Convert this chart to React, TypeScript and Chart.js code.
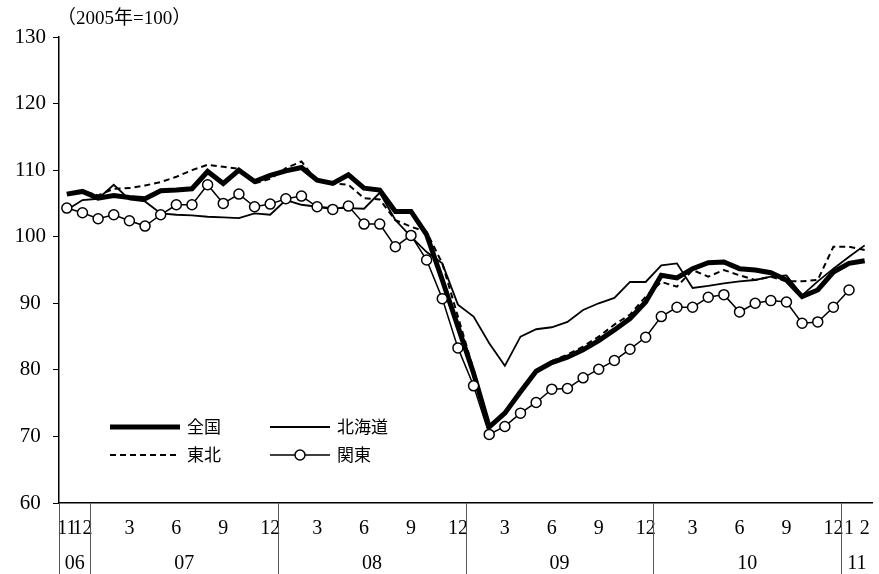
import React, { useEffect, useRef } from "react";
import { Chart, registerables } from "chart.js";

Chart.register(...registerables);

const categories = [
  "2006-11", "2006-12",
  "2007-01", "2007-02", "2007-03", "2007-04", "2007-05", "2007-06", "2007-07", "2007-08", "2007-09", "2007-10", "2007-11", "2007-12",
  "2008-01", "2008-02", "2008-03", "2008-04", "2008-05", "2008-06", "2008-07", "2008-08", "2008-09", "2008-10", "2008-11", "2008-12",
  "2009-01", "2009-02", "2009-03", "2009-04", "2009-05", "2009-06", "2009-07", "2009-08", "2009-09", "2009-10", "2009-11", "2009-12",
  "2010-01", "2010-02", "2010-03", "2010-04", "2010-05", "2010-06", "2010-07", "2010-08", "2010-09", "2010-10", "2010-11", "2010-12",
  "2011-01", "2011-02",
];

const zenkoku = [
  106.4, 106.8, 105.8, 106.2, 105.9, 105.7, 106.9, 107.0, 107.2, 109.8, 108.0, 110.0, 108.3,
  109.2, 109.9, 110.4, 108.5, 108.0, 109.3, 107.3, 107.0, 103.8, 103.8, 100.3, 93.5, 86.5,
  79.5, 71.4, 73.5, 76.7, 79.8, 81.1, 81.9, 83.0, 84.4, 86.0, 87.7, 90.2, 94.2,
  93.8, 95.2, 96.1, 96.2, 95.2, 95.0, 94.6, 93.5, 91.0, 92.0, 94.7, 96.0, 96.4,
];

const hokkaido = [
  104.0, 105.5, 105.7, 107.8, 105.6, 105.3, 103.5, 103.3, 103.2, 103.0, 102.9, 102.8, 103.5,
  103.3, 105.5, 104.8, 104.5, 104.3, 104.3, 104.2, 106.6, 102.5, 100.0, 97.7, 96.0, 89.8,
  88.0, 84.0, 80.6, 85.0, 86.1, 86.4, 87.2, 89.0, 90.0, 90.8, 93.2, 93.2, 95.7,
  96.0, 92.3, 92.6, 93.0, 93.3, 93.5, 94.0, 94.2, 91.2, 93.3, 95.2, 97.0, 98.7,
];

const tohoku = [
  106.5, 106.9, 106.2, 107.2, 107.3, 107.7, 108.2, 109.0, 110.0, 110.8, 110.5, 110.2, 108.0,
  108.7, 110.3, 111.3, 108.3, 108.0, 107.8, 105.8, 105.6, 102.5, 101.5, 100.7, 96.0, 88.0,
  80.0, 71.5, 73.2, 76.5, 79.8, 81.3, 82.3, 83.5, 85.0, 86.8, 88.3, 91.0, 93.2,
  92.5, 95.0, 94.0, 95.0, 94.2, 93.5, 94.0, 93.3, 93.3, 93.5, 98.5, 98.5, 98.0,
];

const kanto = [
  104.3, 103.6, 102.7, 103.3, 102.4, 101.6, 103.3, 104.8, 104.8, 107.8, 105.0, 106.4, 104.5,
  104.9, 105.7, 106.1, 104.5, 104.1, 104.6, 101.9, 101.9, 98.5, 100.2, 96.5, 90.7, 83.3,
  77.6, 70.3, 71.5, 73.5, 75.1, 77.1, 77.2, 78.8, 80.1, 81.4, 83.1, 84.9, 88.0,
  89.4, 89.4, 90.9, 91.3, 88.7, 90.0, 90.4, 90.2, 87.0, 87.2, 89.4, 92.0, null,
];

const seriesNames = ["全国", "北海道", "東北", "関東"];
const yearLabels = ["06", "07", "08", "09", "10", "11"];
const unitLabel = "（2005年=100）";
const yMin = 60;
const yMax = 130;
const yStep = 10;

const NUM_FONT = '"Liberation Serif", "Noto Sans CJK JP", serif';
const JP_FONT = '"Noto Sans CJK JP", "Liberation Serif", sans-serif';

function yearOf(i: number) {
  return categories[i].split("-")[0];
}
function monthOf(i: number) {
  return Number(categories[i].split("-")[1]);
}
function tickLabel(i: number) {
  const m = monthOf(i);
  const y = yearOf(i);
  if (i < 2 || y === yearOf(categories.length - 1) || m % 3 === 0) return String(m);
  return "";
}

const yearPlugin = {
  id: "yearRow",
  afterDraw(chart: any) {
    const { ctx, chartArea } = chart;
    const x = chart.scales.x;
    const bounds: number[] = [chartArea.left];
    for (let i = 1; i < categories.length; i++) {
      if (yearOf(i) !== yearOf(i - 1)) {
        bounds.push((x.getPixelForValue(i - 1) + x.getPixelForValue(i)) / 2);
      }
    }
    bounds.push(chartArea.right);
    ctx.save();
    ctx.strokeStyle = "#555";
    ctx.lineWidth = 1;
    for (let k = 0; k < bounds.length - 1; k++) {
      const px = Math.round(bounds[k]) + 0.5;
      ctx.beginPath();
      ctx.moveTo(px, chartArea.bottom);
      ctx.lineTo(px, chart.height);
      ctx.stroke();
    }
    ctx.fillStyle = "#000";
    ctx.font = "20px " + NUM_FONT;
    ctx.textAlign = "center";
    ctx.textBaseline = "middle";
    for (let k = 0; k < bounds.length - 1 && k < yearLabels.length; k++) {
      ctx.fillText(yearLabels[k], (bounds[k] + bounds[k + 1]) / 2, chartArea.bottom + 61);
    }
    ctx.restore();
  },
};

const titlePlugin = {
  id: "unitTitle",
  afterDraw(chart: any) {
    const { ctx, chartArea } = chart;
    ctx.save();
    ctx.fillStyle = "#000";
    ctx.font = "19px " + NUM_FONT;
    ctx.textAlign = "left";
    ctx.textBaseline = "middle";
    ctx.fillText(unitLabel, chartArea.left - 2, chartArea.top - 18);
    ctx.restore();
  },
};

const legendPlugin = {
  id: "innerLegend",
  afterDraw(chart: any) {
    const { ctx, chartArea } = chart;
    const ds = chart.data.datasets;
    const cols = [chartArea.left + 51, chartArea.left + 211];
    const rows = [chartArea.top + 390, chartArea.top + 418];
    const lineLen = 70;
    ctx.save();
    ds.forEach((d: any, i: number) => {
      const cx = cols[i % 2];
      const cy = rows[Math.floor(i / 2)];
      const len = i % 2 === 0 ? lineLen : 60;
      ctx.beginPath();
      ctx.strokeStyle = "#000";
      ctx.lineWidth = d.borderWidth;
      ctx.setLineDash(d.borderDash || []);
      ctx.moveTo(cx, cy);
      ctx.lineTo(cx + len, cy);
      ctx.stroke();
      ctx.setLineDash([]);
      if (d.pointRadius > 0) {
        ctx.beginPath();
        ctx.fillStyle = "#fff";
        ctx.lineWidth = d.pointBorderWidth;
        ctx.arc(cx + len / 2, cy, d.pointRadius, 0, Math.PI * 2);
        ctx.fill();
        ctx.stroke();
      }
      ctx.fillStyle = "#000";
      ctx.font = "17px " + JP_FONT;
      ctx.textAlign = "left";
      ctx.textBaseline = "middle";
      ctx.fillText(d.label, cx + len + 7, cy);
    });
    ctx.restore();
  },
};

export default function App() {
  const ref = useRef<HTMLCanvasElement | null>(null);

  useEffect(() => {
    document.body.style.margin = "0";
    if (!ref.current) return;
    const chart = new Chart(ref.current, {
      type: "line",
      data: {
        labels: categories,
        datasets: [
          {
            label: seriesNames[0],
            data: zenkoku,
            borderColor: "#000",
            borderWidth: 5,
            pointRadius: 0,
            tension: 0,
            order: 1,
          },
          {
            label: seriesNames[1],
            data: hokkaido,
            borderColor: "#000",
            borderWidth: 1.8,
            pointRadius: 0,
            tension: 0,
            order: 3,
          },
          {
            label: seriesNames[2],
            data: tohoku,
            borderColor: "#000",
            borderWidth: 2,
            borderDash: [6, 4],
            pointRadius: 0,
            tension: 0,
            order: 2,
          },
          {
            label: seriesNames[3],
            data: kanto,
            borderColor: "#000",
            borderWidth: 1.5,
            pointRadius: 5,
            pointBackgroundColor: "#fff",
            pointBorderColor: "#000",
            pointBorderWidth: 1.5,
            tension: 0,
            order: 0,
          },
        ] as any,
      },
      options: {
        responsive: false,
        animation: false,
        layout: { padding: { top: 37, left: 0, right: 0, bottom: 0 } },
        plugins: {
          legend: { display: false },
          tooltip: { enabled: false },
          title: { display: false },
        },
        scales: {
          x: {
            type: "category",
            offset: true,
            grid: { display: false },
            border: { display: true, color: "#000", width: 1.5 },
            ticks: {
              autoSkip: false,
              maxRotation: 0,
              minRotation: 0,
              padding: 6,
              color: "#000",
              font: { family: NUM_FONT, size: 20 },
              callback: (_v: any, i: number) => tickLabel(i),
            },
            afterFit: (s: any) => {
              s.height = 71;
            },
          },
          y: {
            min: yMin,
            max: yMax,
            grid: {
              display: true,
              drawOnChartArea: false,
              drawTicks: true,
              tickLength: 6,
              color: "#000",
            },
            border: { display: true, color: "#000", width: 1.5 },
            ticks: {
              stepSize: yStep,
              padding: 7,
              crossAlign: "center",
              color: "#000",
              font: { family: NUM_FONT, size: 21 },
            },
            afterFit: (s: any) => {
              s.width = 59;
            },
          },
        },
      } as any,
      plugins: [yearPlugin, titlePlugin, legendPlugin],
    });
    return () => chart.destroy();
  }, []);

  return (
    <div style={{ width: 879, height: 574 }}>
      <canvas ref={ref} width={879} height={574} />
    </div>
  );
}
